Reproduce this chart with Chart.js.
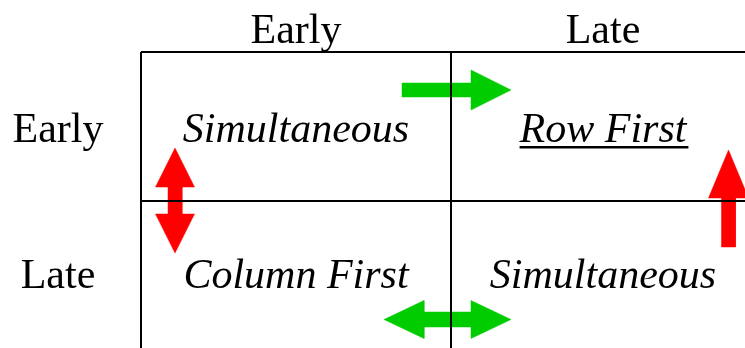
<!DOCTYPE html>
<html>
<head>
<meta charset="utf-8">
<script src="https://cdn.jsdelivr.net/npm/chart.js@4/dist/chart.umd.min.js"></script>
<style>
  html,body{margin:0;padding:0;background:#fff;}
  #c{display:block;}
</style>
</head>
<body>
<canvas id="c" width="745" height="348"></canvas>
<script>
// 2x2 timing matrix: column = column timing, row = row timing
var colLabels = ["Early", "Late"];
var rowLabels = ["Early", "Late"];
var cellLabels = [["Simultaneous", "Row First"], ["Column First", "Simultaneous"]];
var cellUnderline = [[false, true], [false, false]];

// frame in data units (the scales map 0..745 x 0..348)
var colEdges = [141, 451, 755];
var rowEdges = [52, 201, 348];
var headerBase = 43, rowLabelX = 58;
var cellBase = [142, 288];

// arrows: tail, tip, two heads?, colour
var arrows = [
  {from:[402,90],    to:[511,90],    both:false, color:"#00CC00", shaft:7,   head:20,   len:40},
  {from:[175,253],   to:[175,148],   both:true,  color:"#FF0000", shaft:7,   head:19.5, len:39},
  {from:[728.5,247], to:[728.5,150], both:false, color:"#FF0000", shaft:7,   head:20,   len:48},
  {from:[384,319.5], to:[511,319.5], both:true,  color:"#00CC00", shaft:7.5, head:19,   len:40}
];

function arrowPoly(a){
  var dx=a.to[0]-a.from[0], dy=a.to[1]-a.from[1], L=Math.sqrt(dx*dx+dy*dy);
  var ux=dx/L, uy=dy/L, nx=-uy, ny=ux;
  function p(t,s){return {x:a.from[0]+ux*t+nx*s, y:a.from[1]+uy*t+ny*s};}
  var pts=[];
  var t0=a.both?a.len:0, t1=L-a.len;
  if(a.both){pts.push(p(0,0),p(a.len,-a.head),p(a.len,-a.shaft));}
  else pts.push(p(0,-a.shaft));
  pts.push(p(t1,-a.shaft),p(t1,-a.head),p(L,0),p(t1,a.head),p(t1,a.shaft));
  if(a.both){pts.push(p(a.len,a.shaft),p(a.len,a.head),p(0,0));}
  else pts.push(p(0,a.shaft),p(0,-a.shaft));
  return pts;
}

var datasets=[];
arrows.forEach(function(a){
  datasets.push({data:arrowPoly(a),showLine:true,fill:"shape",backgroundColor:a.color,
    borderColor:a.color,borderWidth:0.5,pointRadius:0,tension:0,order:2});
});
var gridSegs=[
  [[colEdges[0],rowEdges[0]],[745,rowEdges[0]]],
  [[colEdges[0],rowEdges[1]],[745,rowEdges[1]]],
  [[colEdges[0],rowEdges[0]],[colEdges[0],rowEdges[2]]],
  [[colEdges[1],rowEdges[0]],[colEdges[1],rowEdges[2]]]
];
gridSegs.forEach(function(s){
  datasets.push({data:s.map(function(q){return {x:q[0],y:q[1]};}),showLine:true,fill:false,
    borderColor:"#000",borderWidth:2,pointRadius:0,order:1});
});

var textPlugin={
  id:"matrixText",
  afterDatasetsDraw:function(chart){
    var ctx=chart.ctx, xs=chart.scales.x, ys=chart.scales.y;
    ctx.save();
    ctx.fillStyle="#000";
    ctx.textAlign="center";
    ctx.textBaseline="alphabetic";
    ctx.font="42px 'Liberation Serif', 'Times New Roman', serif";
    colLabels.forEach(function(t,i){
      ctx.fillText(t,xs.getPixelForValue((colEdges[i]+colEdges[i+1])/2),ys.getPixelForValue(headerBase));
    });
    rowLabels.forEach(function(t,i){
      ctx.fillText(t,xs.getPixelForValue(rowLabelX),ys.getPixelForValue(cellBase[i]));
    });
    ctx.font="italic 42px 'Liberation Serif', 'Times New Roman', serif";
    cellLabels.forEach(function(row,r){
      row.forEach(function(t,c){
        var cx=xs.getPixelForValue((colEdges[c]+colEdges[c+1])/2), by=ys.getPixelForValue(cellBase[r]);
        ctx.fillText(t,cx,by);
        if(cellUnderline[r][c]){
          var w=ctx.measureText(t).width;
          ctx.fillRect(cx-w/2,by+4,w+2,2.5);
        }
      });
    });
    ctx.restore();
  }
};

new Chart(document.getElementById("c"),{
  type:"scatter",
  data:{datasets:datasets},
  options:{
    responsive:false,animation:false,events:[],
    layout:{padding:0},
    plugins:{legend:{display:false},tooltip:{enabled:false}},
    scales:{
      x:{type:"linear",min:0,max:745,display:false},
      y:{type:"linear",min:0,max:348,reverse:true,display:false}
    }
  },
  plugins:[textPlugin]
});
</script>
</body>
</html>
